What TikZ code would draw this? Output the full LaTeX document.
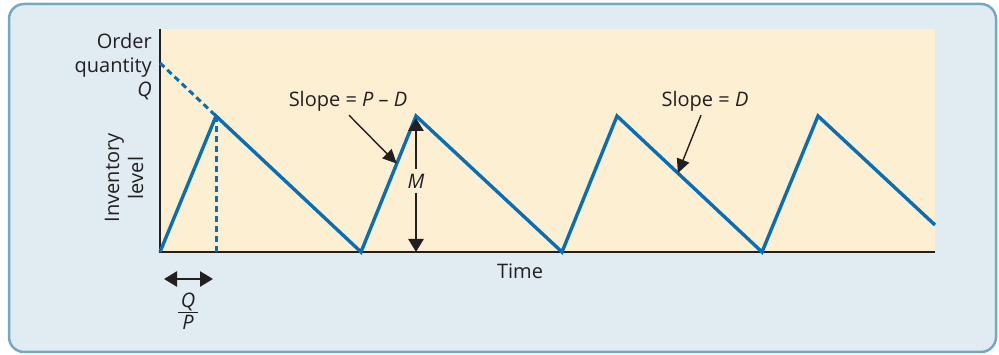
\documentclass[tikz,border=0pt]{standalone}
\usepackage{fontspec}
\setmainfont{Open Sans}
\usepackage{xcolor}
\usetikzlibrary{arrows.meta,positioning,calc}

\definecolor{panelbg}{HTML}{E0EBF2}
\definecolor{panelline}{HTML}{72A9C2}
\definecolor{plotbg}{HTML}{FDEFD2}
\definecolor{sawblue}{HTML}{0A6EB4}
\definecolor{inkgray}{HTML}{231F20}

\begin{document}
\begin{tikzpicture}[
  x=1pt, y=-1pt,
  lbl/.style={font=\fontsize{20}{24}\selectfont, text=inkgray, inner sep=0pt},
  saw/.style={draw=sawblue, line width=3.4pt, line join=miter},
  guide/.style={draw=sawblue, line width=3pt, dash pattern=on 6pt off 4pt},
  axis/.style={draw=inkgray, line width=1.4pt},
  ptr/.style={-{Triangle[length=14pt, width=13pt]}, line width=1.4pt, draw=inkgray, fill=inkgray},
  dbl/.style={{Triangle[length=13pt, width=15pt]}-{Triangle[length=13pt, width=15pt]}, line width=2.6pt, draw=inkgray, fill=inkgray}
]
  \useasboundingbox (0,0) rectangle (999,355);
  \draw[fill=panelbg, draw=panelline, line width=2.5pt, rounded corners=15pt] (9,4) rectangle (996,352);

  % plot area
  \coordinate (top) at (160,29);
  \coordinate (o) at (160,252);
  \coordinate (ax) at (935,252);
  \fill[plotbg] (top) rectangle (ax);
  \draw[axis] (top) -- (o) -- (ax);

  % sawtooth
  \coordinate (q) at (160,63);
  \coordinate (p1) at (216,116);
  \coordinate (v1) at (361,252);
  \coordinate (p2) at (416,116);
  \coordinate (v2) at (562,252);
  \coordinate (p3) at (617,116);
  \coordinate (v3) at (762,252);
  \coordinate (p4) at (818,116);
  \coordinate (e) at (935,225);
  \draw[guide] (q) -- (p1);
  \draw[guide] (p1) -- (p1 |- o);
  \draw[saw] (o) -- (p1) -- (v1) -- (p2) -- (v2) -- (p3) -- (v3) -- (p4) -- (e);

  % labels
  \node[lbl, align=right, anchor=east] (oq) at (152,67) {Order\\quantity\\\textit{Q}};
  \node[lbl, align=center, rotate=90] (inv) at (124,178) {Inventory\\level};
  \node[lbl] (time) at (520,271) {Time};
  \node[lbl] (s1) at (348,101) {Slope = \textit{P} – \textit{D}};
  \node[lbl] (s2) at (705,101) {Slope = \textit{D}};

  \coordinate (h1) at ($(v1)!0.65!(p2)$);
  \coordinate (h2) at ($(p3)!0.42!(v3)$);
  \draw[ptr] ([xshift=1pt, yshift=-4pt]s1.south) -- (h1);
  \draw[ptr] ([xshift=-4pt, yshift=-4pt]s2.south) -- (h2);

  \draw[dbl] ([yshift=-2pt]p2) -- (p2 |- o) node[lbl, midway, fill=plotbg, inner ysep=5pt, yshift=4pt] (m) {\textit{M}};

  % Q/P under the axis
  \coordinate (dl) at (164,279);
  \coordinate (dr) at (213,279);
  \draw[dbl] (dl) -- (dr);
  \setlength{\arrayrulewidth}{1.2pt}
  \node[lbl] (qp) at (188,314) {\begin{tabular}{@{\hspace{3pt}}c@{\hspace{3pt}}}\textit{Q}\\[-3pt]\hline\textit{P}\end{tabular}};
\end{tikzpicture}
\end{document}
